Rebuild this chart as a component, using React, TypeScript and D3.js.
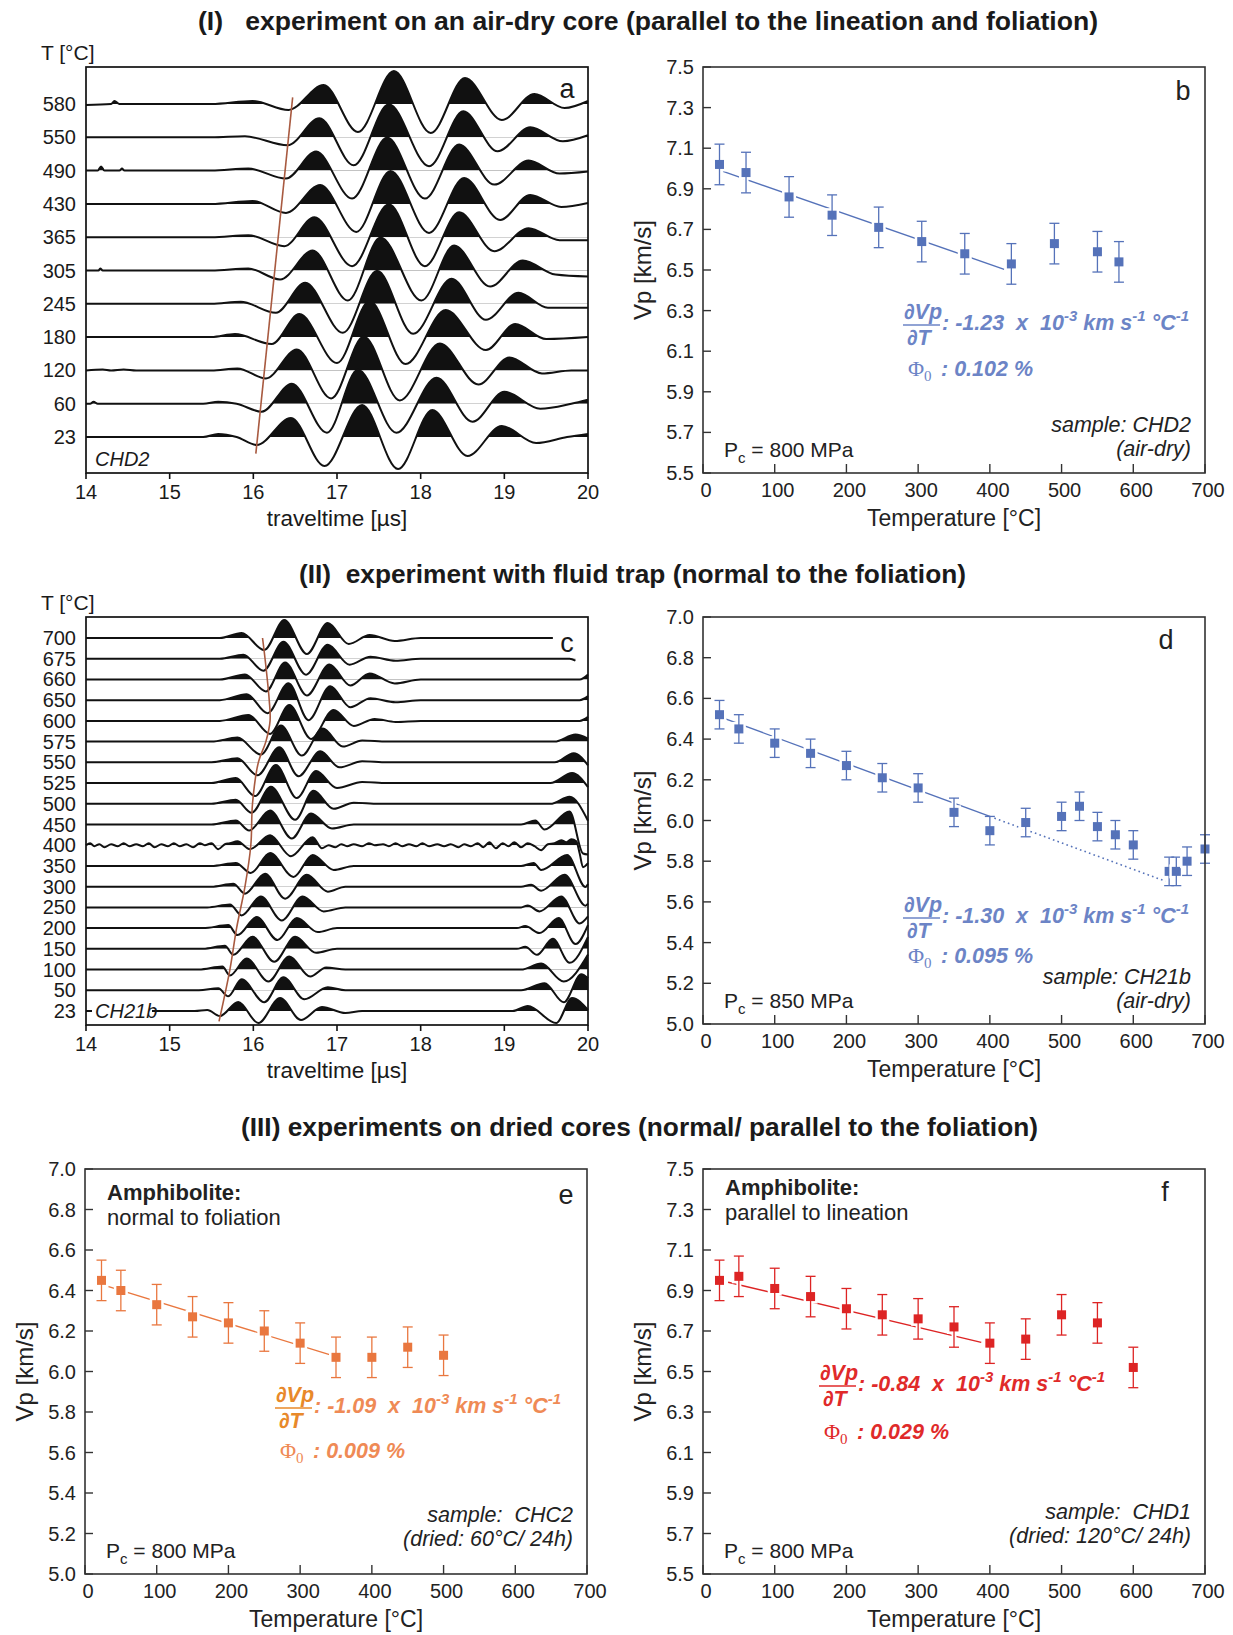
import React from "react";
import * as d3 from "d3";

const FONT = "'Liberation Sans', Arial, Helvetica, sans-serif";
const SERIF = "'Liberation Serif', 'Times New Roman', serif";

// ---------------- Panel a : waveforms CHD2 ----------------
const tempsA = [23, 60, 120, 180, 245, 305, 365, 430, 490, 550, 580];
// extrema of each trace [traveltime µs, amplitude], bottom (23 °C) to top (580 °C)
const wavesA: [number, number][][] = [
  [[14, 0], [15.4, 0], [15.58, 3], [15.8, 0], [16.04, -8], [16.45, 19], [16.85, -29], [17.3, 32], [17.73, -32], [18.14, 27], [18.56, -19], [18.97, 11], [19.38, -6], [19.75, 0], [20, 3]],
  [[14, 0], [14.05, 0], [14.09, 2], [14.14, 0], [15.4, 0], [15.58, 2], [15.8, 0], [16.1, -8], [16.46, 20], [16.88, -29], [17.25, 34], [17.71, -29], [18.19, 26], [18.62, -18], [19.0, 12], [19.43, -5], [19.8, 0], [20, 4]],
  [[14, 0], [14.2, 1], [14.3, 0], [14.45, 1], [14.6, 0], [15.5, 0], [15.81, 2], [16.15, -8], [16.52, 21], [16.93, -28], [17.32, 34], [17.75, -30], [18.23, 27], [18.69, -14], [19.06, 13], [19.45, -3], [19.8, 0], [20, 0]],
  [[14, 0], [15.5, 0], [15.78, 3], [16.22, -7], [16.55, 23], [17.0, -26], [17.39, 36], [17.82, -27], [18.3, 27], [18.78, -13], [19.13, 13], [19.5, -2], [20, 0]],
  [[14, 0], [15.5, 0], [15.85, 2], [16.27, -9], [16.62, 21], [17.07, -29], [17.48, 33], [17.91, -30], [18.37, 25], [18.78, -16], [19.17, 11], [19.52, -4], [20, -4]],
  [[14, 0], [14.15, 0], [14.17, 2], [14.2, 0], [15.5, 0], [15.94, 2], [16.32, -9], [16.71, 20], [17.13, -30], [17.52, 33], [18.01, -30], [18.4, 25], [18.83, -16], [19.22, 10], [19.61, -4], [20, -6]],
  [[14, 0], [15.5, 0], [15.94, 2], [16.37, -9], [16.73, 20], [17.18, -29], [17.62, 33], [18.05, -29], [18.46, 25], [18.88, -14], [19.29, 9], [19.66, -3], [20, -3]],
  [[14, 0], [15.5, 0], [15.99, 3], [16.39, -9], [16.8, 19], [17.23, -28], [17.64, 33], [18.1, -29], [18.52, 26], [18.95, -16], [19.31, 9], [19.68, -3], [20, 1]],
  [[14, 0], [14.14, 0], [14.18, 4], [14.22, 0], [14.4, 0], [14.43, 2], [14.46, 0], [15.5, 0], [15.94, 2], [16.39, -8], [16.75, 19], [17.18, -28], [17.6, 33], [18.05, -28], [18.46, 26], [18.88, -14], [19.29, 10], [19.66, -3], [20, -1]],
  [[14, 0], [15.5, 0], [15.9, 1], [16.41, -8], [16.79, 19], [17.2, -28], [17.62, 33], [18.1, -29], [18.51, 26], [18.92, -14], [19.31, 10], [19.7, -4], [20, 2]],
  [[14, -1], [14.3, 0], [14.34, 3], [14.4, 0], [15.5, 0], [15.99, 3], [16.42, -6], [16.84, 19], [17.25, -28], [17.68, 33], [18.12, -29], [18.53, 26], [18.97, -16], [19.36, 10], [19.72, -4], [20, 3]],
];
// onset pick line: [row index, traveltime]
const pickA: [number, number][] = [[-0.5, 16.03], [10.2, 16.47]];

// ---------------- Panel c : waveforms CH21b ----------------
const tempsC = [23, 50, 100, 150, 200, 250, 300, 350, 400, 450, 500, 525, 550, 575, 600, 650, 660, 675, 700];
const wavesC: [number, number][][] = [
  [[14, 0], [15.3, 0], [15.45, 1], [15.6, -5], [15.82, 9], [16.06, -12], [16.32, 13], [16.57, -9], [16.82, 4], [17.1, -2], [17.3, 0], [19.1, 0], [19.28, 5], [19.62, -12], [19.81, 13], [20, 1]],
  [[14, 0], [15.35, 0], [15.58, 2], [15.7, -6], [15.86, 11], [16.13, -12], [16.36, 13], [16.61, -9], [16.89, 3], [17.1, 0], [19.2, 0], [19.48, 7], [19.71, -12], [19.92, 16], [20, 12]],
  [[14, 0], [15.35, 0], [15.63, 3], [15.72, -6], [15.92, 11], [16.18, -12], [16.43, 13], [16.68, -7], [16.87, 2], [17.1, 0], [19.2, 0], [19.44, 6], [19.71, -12], [20, 15]],
  [[14, 0], [15.4, 0], [15.66, 3], [15.76, -6], [15.99, 12], [16.25, -13], [16.5, 12], [16.75, -4], [17.0, 0], [19.15, 0], [19.25, 2], [19.39, -6], [19.58, 10], [19.78, -14], [20, 12]],
  [[14, 0], [15.4, 0], [15.7, 3], [15.81, -7], [16.04, 11], [16.29, -12], [16.52, 10], [16.77, -4], [17.0, 0], [19.15, 0], [19.25, 2], [19.42, -5], [19.65, 10], [19.85, -16], [20, 3]],
  [[14, 0], [15.45, 0], [15.72, 3], [15.86, -8], [16.09, 11], [16.34, -13], [16.59, 11], [16.84, -4], [17.1, 0], [19.2, 0], [19.28, 2], [19.42, -4], [19.68, 11], [19.9, -16], [20, -9]],
  [[14, 0], [15.5, 0], [15.76, 3], [15.9, -7], [16.14, 13], [16.38, -12], [16.64, 12], [16.89, -5], [17.1, 0], [19.2, 0], [19.32, 2], [19.44, -4], [19.72, 12], [19.97, -19], [20, -17]],
  [[14, 0], [15.5, 0], [15.79, 3], [15.97, -7], [16.2, 13], [16.48, -11], [16.71, 11], [16.96, -4], [17.2, 0], [19.2, 0], [19.35, 3], [19.44, -4], [19.75, 11], [19.97, -21], [20, -18]],
  [[14, 0], [14.05, 2], [14.1, -1], [14.16, 1], [14.22, -2], [14.3, 1], [14.38, -1], [14.45, 2], [14.52, -1], [14.6, 1], [14.68, -1], [14.75, 2], [14.82, -2], [14.9, 1], [14.98, -1], [15.05, 2], [15.12, -1], [15.2, 1], [15.28, -2], [15.36, 2], [15.42, 0], [15.5, 2], [15.58, -4], [15.66, 1], [15.72, 2], [15.81, 4], [15.96, -4], [16.2, 10], [16.45, -11], [16.71, 8], [16.82, -3], [16.9, 0], [16.98, -2], [17.05, 1], [17.12, -1], [17.2, 1], [17.3, -1], [17.38, 2], [17.45, 0], [17.55, 1], [17.62, -1], [17.7, 2], [17.78, -1], [17.86, 1], [17.95, -1], [18.02, 2], [18.1, -1], [18.2, 1], [18.28, -1], [18.36, 1], [18.45, -2], [18.52, 1], [18.6, -1], [18.68, 2], [18.75, -2], [18.82, 3], [18.9, -3], [18.98, 2], [19.05, -1], [19.12, 3], [19.2, -2], [19.28, 2], [19.36, -1], [19.44, -5], [19.52, 1], [19.6, 2], [19.68, 5], [19.74, 3], [19.8, 6], [19.86, 4], [19.9, -8], [19.94, -22], [20, -18]],
  [[14, 0], [15.5, 0], [15.79, 4], [15.95, -6], [16.2, 14], [16.46, -14], [16.69, 11], [16.94, -4], [17.2, 0], [19.2, 0], [19.37, 4], [19.48, -5], [19.78, 13], [19.94, -29], [20, -30]],
  [[14, 0], [15.5, 0], [15.79, 4], [15.98, -9], [16.21, 17], [16.5, -16], [16.72, 13], [16.96, -5], [17.2, 1], [17.5, 0], [19.55, 0], [19.78, 7], [20, -17]],
  [[14, 0], [15.5, 0], [15.79, 5], [16.02, -13], [16.27, 18], [16.52, -15], [16.75, 12], [17.0, -5], [17.3, 1], [17.6, 0], [19.55, 0], [19.81, 10], [20, -4]],
  [[14, 0], [15.5, 0], [15.81, 4], [16.05, -13], [16.31, 15], [16.54, -14], [16.8, 11], [17.03, -5], [17.3, 1], [17.6, 0], [19.6, 0], [19.83, 9], [20, -3]],
  [[14, 0], [15.5, 0], [15.81, 4], [16.09, -13], [16.33, 16], [16.58, -14], [16.83, 13], [17.07, -5], [17.3, 1], [17.6, 0], [19.6, 0], [19.85, 7], [20, 3]],
  [[14, 0], [15.6, 0], [15.94, 6], [16.2, -13], [16.43, 16], [16.69, -18], [16.96, 11], [17.2, -5], [17.45, 2], [17.7, -1], [18, 0], [19.9, 0], [20, 4]],
  [[14, 0], [15.6, 0], [15.92, 6], [16.17, -13], [16.42, 17], [16.66, -20], [16.92, 14], [17.16, -7], [17.4, 2], [17.7, -2], [18, 0], [19.9, 0], [20, 4]],
  [[14, 0], [15.6, 0], [15.9, 5], [16.15, -12], [16.38, 17], [16.64, -16], [16.91, 15], [17.16, -6], [17.39, 6], [17.69, -4], [18, 0], [19.9, 0], [20, 5]],
  [[14, 0], [15.6, 0], [15.88, 4], [16.12, -12], [16.36, 17], [16.63, -16], [16.89, 14], [17.15, -6], [17.4, 2], [17.7, -2], [18, 0], [19.78, 0], [19.85, -2]],
  [[14, 0], [15.6, 0], [15.86, 5], [16.13, -12], [16.37, 18], [16.64, -16], [16.89, 15], [17.14, -6], [17.39, 3], [17.69, -3], [18, 0], [19.58, 0]],
];
const pickC: [number, number][] = [[-0.5, 15.59], [2, 15.72], [4, 15.8], [6, 15.9], [8, 15.97], [10, 15.99], [12, 16.06], [13, 16.15], [14, 16.2], [15, 16.19], [17, 16.14], [18, 16.11]];

const timeTicks = [14, 15, 16, 17, 18, 19, 20];
const tempTicks = [0, 100, 200, 300, 400, 500, 600, 700];

// ---------------- Panel b ----------------
const tempB = [23, 60, 120, 180, 245, 305, 365, 430, 490, 550, 580];
const vpB = [7.02, 6.98, 6.86, 6.77, 6.71, 6.64, 6.58, 6.53, 6.63, 6.59, 6.54];
const errB = 0.1;
const yTicksB = [5.5, 5.7, 5.9, 6.1, 6.3, 6.5, 6.7, 6.9, 7.1, 7.3, 7.5];

// ---------------- Panel d ----------------
const tempD = [23, 50, 100, 150, 200, 250, 300, 350, 400, 450, 500, 525, 550, 575, 600, 650, 660, 675, 700];
const vpD = [6.52, 6.45, 6.38, 6.33, 6.27, 6.21, 6.16, 6.04, 5.95, 5.99, 6.02, 6.07, 5.97, 5.93, 5.88, 5.75, 5.75, 5.8, 5.86];
const errD = 0.07;
const yTicksD = [5.0, 5.2, 5.4, 5.6, 5.8, 6.0, 6.2, 6.4, 6.6, 6.8, 7.0];

// ---------------- Panel e ----------------
const tempE = [23, 50, 100, 150, 200, 250, 300, 350, 400, 450, 500];
const vpE = [6.45, 6.4, 6.33, 6.27, 6.24, 6.2, 6.14, 6.07, 6.07, 6.12, 6.08];
const errE = 0.1;
const yTicksE = [5.0, 5.2, 5.4, 5.6, 5.8, 6.0, 6.2, 6.4, 6.6, 6.8, 7.0];

// ---------------- Panel f ----------------
const tempF = [23, 50, 100, 150, 200, 250, 300, 350, 400, 450, 500, 550, 600];
const vpF = [6.95, 6.97, 6.91, 6.87, 6.81, 6.78, 6.76, 6.72, 6.64, 6.66, 6.78, 6.74, 6.52];
const errF = 0.1;
const yTicksF = [5.5, 5.7, 5.9, 6.1, 6.3, 6.5, 6.7, 6.9, 7.1, 7.3, 7.5];

// linear fits: intercept (km/s), slope (km/s/°C), fitted range, optional dotted extension
const fitB = { a: 7.02, b: -1.23e-3, t0: 28, t1: 420 };
const fitD = { a: 6.54, b: -1.3e-3, t0: 18, t1: 400, t2: 645 };
const fitE = { a: 6.455, b: -1.09e-3, t0: 25, t1: 350 };
const fitF = { a: 6.97, b: -0.84e-3, t0: 35, t1: 388 };

type Box = { x0: number; x1: number; y0: number; y1: number };

function WigglePanel(p: {
  id: string; box: Box; temps: number[]; waves: [number, number][][]; pick: [number, number][];
  rowBottom: number; rowTop: number; letter: string; letterY: number; sample: string; sampleY: number;
  sampleBg?: boolean;
}) {
  const { box } = p;
  const x = d3.scaleLinear().domain([14, 20]).range([box.x0, box.x1]);
  const row = d3.scaleLinear().domain([0, p.temps.length - 1]).range([p.rowBottom, p.rowTop]);
  const amp = d3.scaleLinear().domain([0, 10]).range([0, -10]);
  const order = p.temps.map((_, i) => i).reverse();
  const pickLine = d3.line<[number, number]>().x(d => x(d[1])).y(d => row(d[0])).curve(d3.curveCatmullRom);
  return (
    <g>
      <defs>
        {p.temps.map((_, i) => (
          <clipPath id={`${p.id}clip${i}`} key={i}>
            <rect x={box.x0} y={row(i) - 80} width={box.x1 - box.x0 + 2} height={80} />
          </clipPath>
        ))}
      </defs>
      {order.map(i => {
        const base = row(i);
        const line = d3.line<[number, number]>().x(d => x(d[0])).y(d => base + amp(d[1])).curve(d3.curveMonotoneX);
        const area = d3.area<[number, number]>().x(d => x(d[0])).y0(base).y1(d => base + amp(d[1])).curve(d3.curveMonotoneX);
        return (
          <g key={i}>
            <path d={area(p.waves[i]) || ""} fill="#111" clipPath={`url(#${p.id}clip${i})`} />
            <path d={line(p.waves[i]) || ""} fill="none" stroke="#111" strokeWidth={2} />
          </g>
        );
      })}
      <path d={pickLine(p.pick) || ""} fill="none" stroke="#a85a40" strokeWidth={1.6} />
      {p.temps.map((t, i) => (
        <text key={t} x={box.x0 - 10} y={row(i) + 7} textAnchor="end" fontSize={20} fill="#1a1a1a">{t}</text>
      ))}
      {p.sampleBg && <rect x={box.x0 + 6} y={p.sampleY - 16} width={60} height={19} fill="#fff" />}
      <text x={box.x0 + 9} y={p.sampleY} fontSize={20} fontStyle="italic" fill="#1a1a1a">{p.sample}</text>
      <text x={box.x1 - 21} y={p.letterY} fontSize={27} textAnchor="middle" fill="#1a1a1a">{p.letter}</text>
      <rect x={box.x0} y={box.y0} width={box.x1 - box.x0} height={box.y1 - box.y0} fill="none" stroke="#111" strokeWidth={1.7} />
      {timeTicks.map(t => (
        <g key={t}>
          <line x1={x(t)} x2={x(t)} y1={box.y1} y2={box.y1 + 6} stroke="#111" strokeWidth={1.6} />
          <text x={x(t)} y={box.y1 + 26} textAnchor="middle" fontSize={20} fill="#1a1a1a">{t}</text>
        </g>
      ))}
      <text x={(box.x0 + box.x1) / 2} y={box.y1 + 53} textAnchor="middle" fontSize={22.5} fill="#1a1a1a">traveltime [µs]</text>
      <text x={box.x0 - 45} y={box.y0 - 7} fontSize={21} fill="#1a1a1a">T [°C]</text>
    </g>
  );
}

function SlopeNote(p: { x: number; y: number; color: string; fracColor: string; slope: string; phi: string; phiDy: number }) {
  const sup = 9;
  return (
    <g fill={p.color} fontWeight="bold" fontStyle="italic" fontSize={21.5}>
      <text x={p.x + 1} y={p.y - 11} fill={p.fracColor} fontSize={21.5}>∂Vp</text>
      <line x1={p.x} x2={p.x + 37} y1={p.y - 5} y2={p.y - 5} stroke={p.fracColor} strokeWidth={1.3} />
      <text x={p.x + 4} y={p.y + 15} fill={p.fracColor} fontSize={21.5}>∂T</text>
      <text x={p.x + 39} y={p.y} xmlSpace="preserve" style={{ whiteSpace: "pre" }}>
        {`: ${p.slope}  x  10`}
        <tspan dy={-sup} fontSize={15}>-3</tspan>
        <tspan dy={sup}>{" km s"}</tspan>
        <tspan dy={-sup} fontSize={15}>-1</tspan>
        <tspan dy={sup}>{" °C"}</tspan>
        <tspan dy={-sup} fontSize={15}>-1</tspan>
      </text>
      <text x={p.x + 5} y={p.y + p.phiDy} fontFamily={SERIF} fontWeight="normal" fontStyle="normal" fontSize={22}>
        Φ<tspan dy={5} fontSize={15}>0</tspan>
      </text>
      <text x={p.x + 38} y={p.y + p.phiDy} xmlSpace="preserve" style={{ whiteSpace: "pre" }}>{`: ${p.phi} %`}</text>
    </g>
  );
}

function ScatterPanel(p: {
  box: Box; yDomain: [number, number]; yTicks: number[]; temps: number[]; vps: number[]; err: number;
  color: string; textColor: string; fracColor: string;
  fit: { a: number; b: number; t0: number; t1: number; t2?: number };
  slope: string; phi: string; noteX: number; noteY: number; phiDy: number;
  pc: string; sample: string[]; sampleY: number; letter: string; letterX: number; letterY: number;
  head?: string[]; headY?: number;
}) {
  const { box } = p;
  const x = d3.scaleLinear().domain([0, 700]).range([box.x0, box.x1]);
  const y = d3.scaleLinear().domain(p.yDomain).range([box.y1, box.y0]);
  const fitLine = d3.line<number>().x(t => x(t)).y(t => y(p.fit.a + p.fit.b * t));
  const ms = 9;
  const cap = 5;
  return (
    <g>
      <path d={fitLine([p.fit.t0, p.fit.t1]) || ""} stroke={p.color} strokeWidth={1.4} fill="none" />
      {p.fit.t2 !== undefined && (
        <path d={fitLine([p.fit.t1, p.fit.t2]) || ""} stroke={p.color} strokeWidth={1.6} strokeDasharray="1.6 3.2" fill="none" />
      )}
      {p.temps.map((t, i) => {
        const cx = x(t), cy = y(p.vps[i]);
        const top = y(p.vps[i] + p.err), bot = y(p.vps[i] - p.err);
        return (
          <g key={i}>
            <g stroke="#fff" strokeWidth={5}>
              <line x1={cx} x2={cx} y1={top} y2={bot} />
              <rect x={cx - ms / 2} y={cy - ms / 2} width={ms} height={ms} fill="#fff" />
            </g>
            <g stroke={p.color} strokeWidth={1.3}>
              <line x1={cx} x2={cx} y1={top} y2={bot} />
              <line x1={cx - cap} x2={cx + cap} y1={top} y2={top} />
              <line x1={cx - cap} x2={cx + cap} y1={bot} y2={bot} />
            </g>
            <rect x={cx - ms / 2} y={cy - ms / 2} width={ms} height={ms} fill={p.color} />
          </g>
        );
      })}
      <rect x={box.x0} y={box.y0} width={box.x1 - box.x0} height={box.y1 - box.y0} fill="none" stroke="#333" strokeWidth={1.6} />
      {p.yTicks.map(v => (
        <g key={v}>
          <line x1={box.x0} x2={box.x0 + 8} y1={y(v)} y2={y(v)} stroke="#333" strokeWidth={1.4} />
          <text x={box.x0 - 9} y={y(v) + 7} textAnchor="end" fontSize={20} fill="#222">{v.toFixed(1)}</text>
        </g>
      ))}
      {tempTicks.map(t => (
        <g key={t}>
          <line x1={x(t)} x2={x(t)} y1={box.y1} y2={box.y1 - 9} stroke="#333" strokeWidth={1.4} />
          <text x={x(t) + 3} y={box.y1 + 24} textAnchor="middle" fontSize={20} fill="#222">{t}</text>
        </g>
      ))}
      <text x={(box.x0 + box.x1) / 2} y={box.y1 + 53} textAnchor="middle" fontSize={23} fill="#222">Temperature [°C]</text>
      <text transform={`translate(${box.x0 - 52},${(box.y0 + box.y1) / 2}) rotate(-90)`} textAnchor="middle" fontSize={24} fill="#222">Vp [km/s]</text>
      <text x={p.letterX} y={p.letterY} textAnchor="middle" fontSize={27} fill="#222">{p.letter}</text>
      <SlopeNote x={p.noteX} y={p.noteY} color={p.textColor} fracColor={p.fracColor} slope={p.slope} phi={p.phi} phiDy={p.phiDy} />
      <text x={box.x0 + 21} y={box.y1 - 16} fontSize={21} fill="#222">
        P<tspan dy={6} fontSize={15}>c</tspan><tspan dy={-6}>{` = ${p.pc} MPa`}</tspan>
      </text>
      {p.sample.map((s, i) => (
        <text key={i} x={box.x1 - 14} y={p.sampleY + i * 24} textAnchor="end" fontSize={21.5} fontStyle="italic" fill="#222" xmlSpace="preserve" style={{ whiteSpace: "pre" }}>{s}</text>
      ))}
      {p.head && (
        <g fill="#222" fontSize={22}>
          <text x={box.x0 + 22} y={p.headY} fontWeight="bold">{p.head[0]}</text>
          <text x={box.x0 + 22} y={(p.headY || 0) + 25}>{p.head[1]}</text>
        </g>
      )}
    </g>
  );
}

const boxA: Box = { x0: 86, x1: 588, y0: 67, y1: 473 };
const boxB: Box = { x0: 703, x1: 1205, y0: 67, y1: 473 };
const boxC: Box = { x0: 86, x1: 588, y0: 617, y1: 1025 };
const boxD: Box = { x0: 703, x1: 1205, y0: 617, y1: 1024 };
const boxE: Box = { x0: 85, x1: 587, y0: 1169, y1: 1574 };
const boxF: Box = { x0: 703, x1: 1205, y0: 1169, y1: 1574 };

const BLUE = "#5572b9";
const BLUE_T = "#6c84c6";

export default function App() {
  return (
    <svg width={1233} height={1635} viewBox="0 0 1233 1635" style={{ position: "absolute", left: 0, top: 0 }} fontFamily={FONT}>
      <rect width={1233} height={1635} fill="#fff" />
      <g fontWeight="bold" fontSize={25} fill="#1a1a1a">
        <text x={198} y={30} textLength={900} lengthAdjust="spacingAndGlyphs" xmlSpace="preserve" style={{ whiteSpace: "pre" }}>{"(I)   experiment on an air-dry core (parallel to the lineation and foliation)"}</text>
        <text x={299} y={583} textLength={667} lengthAdjust="spacingAndGlyphs" xmlSpace="preserve" style={{ whiteSpace: "pre" }}>{"(II)  experiment with fluid trap (normal to the foliation)"}</text>
        <text x={241} y={1136} textLength={797} lengthAdjust="spacingAndGlyphs" xmlSpace="preserve" style={{ whiteSpace: "pre" }}>{"(III) experiments on dried cores (normal/ parallel to the foliation)"}</text>
      </g>
      <WigglePanel id="a" box={boxA} temps={tempsA} waves={wavesA} pick={pickA} rowBottom={437} rowTop={104}
        letter="a" letterY={98} sample="CHD2" sampleY={466} />
      <WigglePanel id="c" box={boxC} temps={tempsC} waves={wavesC} pick={pickC} rowBottom={1011} rowTop={638}
        letter="c" letterY={652} sample="CH21b" sampleY={1018} sampleBg />
      <ScatterPanel box={boxB} yDomain={[5.5, 7.5]} yTicks={yTicksB} temps={tempB} vps={vpB} err={errB}
        color={BLUE} textColor={BLUE_T} fracColor={BLUE_T} fit={fitB} slope="-1.23" phi="0.102"
        noteX={903} noteY={330} phiDy={46} pc="800" sample={["sample: CHD2", "(air-dry)"]} sampleY={432}
        letter="b" letterX={1183} letterY={100} />
      <ScatterPanel box={boxD} yDomain={[5.0, 7.0]} yTicks={yTicksD} temps={tempD} vps={vpD} err={errD}
        color={BLUE} textColor={BLUE_T} fracColor={BLUE_T} fit={fitD} slope="-1.30" phi="0.095"
        noteX={903} noteY={923} phiDy={40} pc="850" sample={["sample: CH21b", "(air-dry)"]} sampleY={984}
        letter="d" letterX={1166} letterY={649} />
      <ScatterPanel box={boxE} yDomain={[5.0, 7.0]} yTicks={yTicksE} temps={tempE} vps={vpE} err={errE}
        color="#e9773f" textColor="#ef8a55" fracColor="#e8892a" fit={fitE} slope="-1.09" phi="0.009"
        noteX={275} noteY={1413} phiDy={45} pc="800" sample={["sample:  CHC2", "(dried: 60°C/ 24h)"]} sampleY={1522}
        letter="e" letterX={566} letterY={1204} head={["Amphibolite:", "normal to foliation"]} headY={1200} />
      <ScatterPanel box={boxF} yDomain={[5.5, 7.5]} yTicks={yTicksF} temps={tempF} vps={vpF} err={errF}
        color="#dd2424" textColor="#e02a2a" fracColor="#e02a2a" fit={fitF} slope="-0.84" phi="0.029"
        noteX={819} noteY={1391} phiDy={48} pc="800" sample={["sample:  CHD1", "(dried: 120°C/ 24h)"]} sampleY={1519}
        letter="f" letterX={1165} letterY={1201} head={["Amphibolite:", "parallel to lineation"]} headY={1195} />
    </svg>
  );
}
